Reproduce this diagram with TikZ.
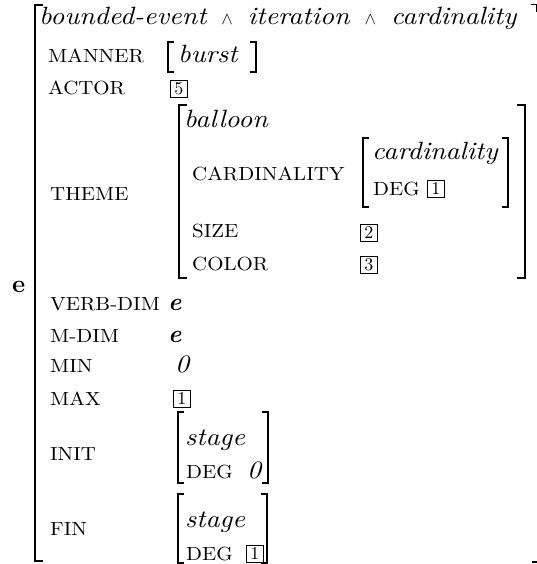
\documentclass[tikz,border=0pt]{standalone}
\usepackage{fontspec}
\setmainfont{lmroman10-regular.otf}[
  ItalicFont=lmroman10-italic.otf,
  BoldFont=lmroman10-bold.otf,
  BoldItalicFont=lmroman10-bolditalic.otf,
  ItalicFeatures={FakeStretch=1.1}]
\newfontfamily\attrfont{lmroman10-regular.otf}[FakeStretch=1.1]
\usepackage{tikz}
\usetikzlibrary{positioning}

\begin{document}
\begin{tikzpicture}[x=1pt, y=-1pt,
  attr/.style={anchor=base west, inner sep=0pt,
               font=\attrfont\fontsize{19}{22}\selectfont},
  val/.style={anchor=base west, inner sep=0pt,
              font=\fontsize{25}{29}\selectfont\itshape},
  bold val/.style={val, font=\fontsize{25}{29}\selectfont\bfseries\itshape},
  tagbox/.style={draw, line width=0.8pt, anchor=north west, inner sep=0pt,
                 minimum size=17pt, font=\fontsize{18}{20}\selectfont},
  big bracket/.style={line width=2.6pt},
  mid bracket/.style={line width=2.2pt},
  small bracket/.style={line width=1.4pt},
]
  \useasboundingbox (0,0) rectangle (537,564);

  % #1 left x, #2 right x, #3 top, #4 bottom, #5 serif, #6 style
  \newcommand{\avmbrackets}[6]{%
    \draw[#6] (#1+#5,#3) -- (#1,#3) -- (#1,#4) -- (#1+#5,#4);
    \draw[#6] (#2-#5,#3) -- (#2,#3) -- (#2,#4) -- (#2-#5,#4);
  }
  \newcommand{\conj}{\hspace{15pt}$\scriptstyle\wedge$\hspace{15pt}}

  % Outer matrix: left bracket and the two corners that show on the right.
  \draw[big bracket] (43,5) -- (35,5) -- (35,561) -- (43,561);
  \draw[line width=1pt] (531,5) -- (536,5) -- (536,12);
  \draw[big bracket] (532,562) -- (537,562);
  \node[anchor=base west, inner sep=0pt,
        font=\fontsize{25}{29}\selectfont\bfseries] (avm-tag) at (12,292) {e};

  \node[val] (event-type) at (39,25)
    {bounded-event\conj iteration\conj cardinality};

  \node[attr] (manner) at (48,63) {MANNER};
  \avmbrackets{168}{256}{42}{72}{6}{small bracket}
  \node[val] (manner-val) at (178,63) {burst};

  \node[attr] (actor) at (48,95) {ACTOR};
  \node[tagbox] (actor-tag) at (170,80) {5};

  % Theme sub-matrix.
  \node[attr] (theme) at (50,200) {THEME};
  \avmbrackets{179}{525}{105}{278}{8}{mid bracket}
  \node[val] (theme-type) at (184,128) {balloon};
  \node[attr] (cardinality) at (192,180) {CARDINALITY};
  \avmbrackets{363}{508}{138}{207}{6}{small bracket}
  \node[val] (card-type) at (372,160) {cardinality};
  \node[attr] (card-deg) at (373,195) {DEG};
  \node[tagbox] (card-deg-tag) at (427,180) {1};
  \node[attr] (size) at (192,237) {SIZE};
  \node[tagbox] (size-tag) at (360,224) {2};
  \node[attr] (color) at (192,270) {COLOR};
  \node[tagbox] (color-tag) at (360,256) {3};

  \node[attr] (verb-dim) at (50,310) {VERB-DIM};
  \node[bold val] (verb-dim-val) at (168,310) {e};
  \node[attr] (m-dim) at (50,342) {M-DIM};
  \node[bold val] (m-dim-val) at (168,342) {e};
  \node[attr] (min) at (50,372) {MIN};
  \node[val] (min-val) at (175,372) {0};
  \node[attr] (max) at (50,405) {MAX};
  \node[tagbox] (max-tag) at (173,390) {1};

  % Initial and final stages.
  \node[attr] (init) at (50,460) {INIT};
  \avmbrackets{178}{268}{412}{483}{6}{small bracket}
  \node[val] (init-type) at (185,445) {stage};
  \node[attr] (init-deg) at (186,478) {DEG};
  \node[val] (init-deg-val) at (247,478) {0};

  \node[attr] (fin) at (50,535) {FIN};
  \avmbrackets{178}{267}{494}{563}{6}{small bracket}
  \node[val] (fin-type) at (185,527) {stage};
  \node[attr] (fin-deg) at (186,560) {DEG};
  \node[tagbox] (fin-deg-tag) at (246,545) {1};
\end{tikzpicture}
\end{document}
